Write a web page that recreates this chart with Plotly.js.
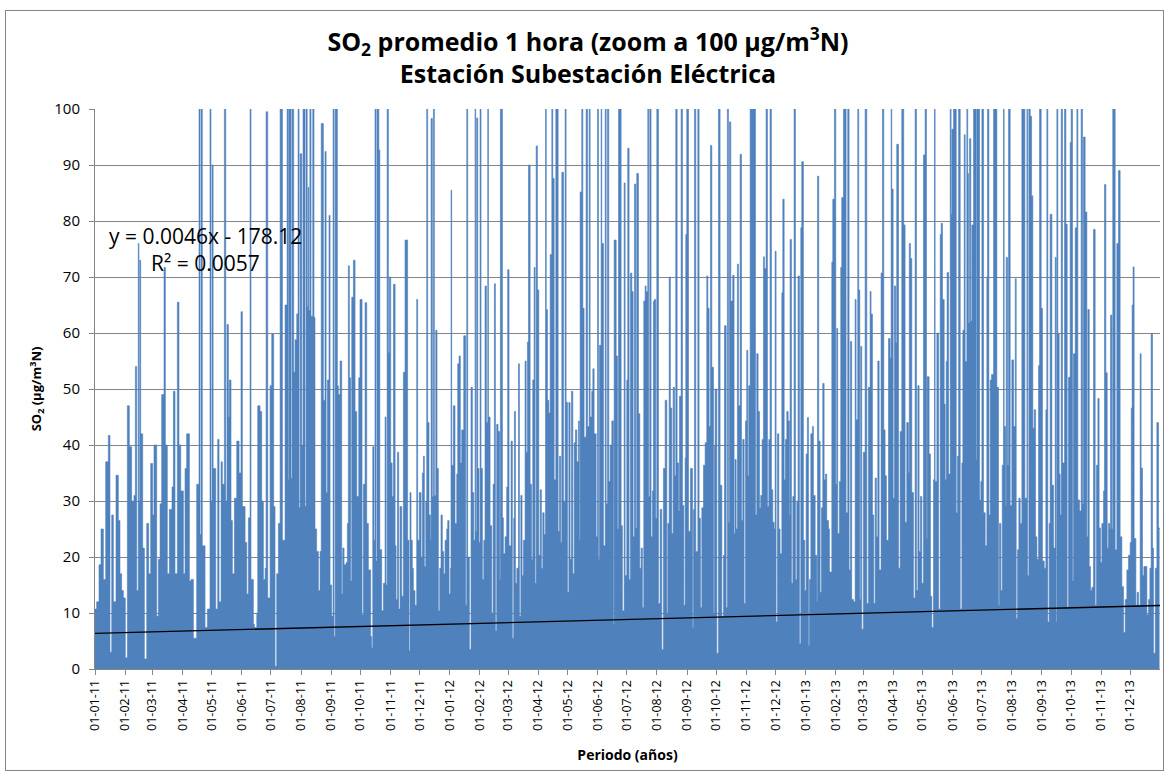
<!DOCTYPE html>
<html>
<head>
<meta charset="utf-8">
<script src="https://cdn.plot.ly/plotly-3.0.1.min.js"></script>
<style>
  html, body { margin: 0; padding: 0; background: #ffffff; }
  #grafico { width: 1169px; height: 777px; }
  #marco {
    position: absolute; left: 5px; top: 10px; width: 1159px; height: 761px;
    border: 1px solid #868686; box-sizing: border-box; pointer-events: none;
  }
</style>
</head>
<body>
<div id="grafico"></div>
<div id="marco"></div>
<script>
// Máximos de SO2 (µg/m3N) por instante; "dias" = días transcurridos desde el 01-01-2011.
const dias2011 = [0,1.7,4.1,6.2,8.6,11,13.7,15.4,17.2,18.9,21.6,24,25.7,27.4,29.2,31.2,33.3,35.3,37.7,40.1,41.5,42.9,44.5,45.2,46,47,49.1,50.8,53.2,55.2,57.3,59.3,60.7,63.5,65.2,66.9,68.6,71,72.4,74.4,76.5,79.2,80.6,82.3,84.7,86.4,88.2,90.9,92.6,94.3,97.1,98.8,101.2,104.6,107,108,109.1,110.4,113.2,115.6,118.3,119.3,120.4,121.5,124.2,126.2,127.6,129.7,131,133.1,134.5,135.8,137.2,138.2,139.9,141.3,143.4,145.8,148.2,150.2,151.6,154.4,156.1,157.8,159.5,160.5,162.9,164,166.4,167.4,169.8,171.5,173.2,175,176,177.7,180.1,181.8,183.8,185.2,186.9,188.6,190.4,192.8,195.5,197.6,198.9,199.6,201.7,202.7,204.4,205.8,207.5,208.9,209.9,211,212.7,214,216,217.1,218.3,219.2,220,221,222.2,224,225.3,226.3,228,229.8,231.5,232.7,234.9,236.6,237.7,239,240.7,241.8,243.5,244.9,245.9,247,248,249.3,250.3,252.1,253.8,254.8,256.2,258.2,259.6,260.6,261.7,263,264.1,265.8,267.5,269.2,271.3,272.6,274.7,276.1,277.8,279.5,281.2,283.6,284.6,285.7,287,288,289,290,291,292,293,294.9,296.7,298.4,299.4,300.5,301.8,302.8,304.2,305.6,307,308.7,309.7,311.1,312.4,313.8,315.5,317.2,318.9,321.6,323,324,325.1,326.4,327.5,329.2,330.9,331.9,333.6,335.4,336.7,337.8,338.8,340.2,341.2,342.2,343.6,345,345.7,347,348.1,349.1,350.5,351.8,353.2,354.6,355.9,357.3,358.7,360.1,361.8,362.8,364.2];
const so2_2011 = [10.7,12,18.6,25,16,37,41.7,3,27.5,12,34.6,26.5,17,14,12.7,2,47,39.7,30,31,54,14,76,30,73,42,21.6,1.8,26,17,36.7,27.5,40,9.4,19.6,29.5,49,71.7,40,17,28.5,32.5,49.6,17,65.5,40,31.8,17,35.8,42,15.7,16,5.5,33,120,24,120,22,7.4,10.7,120,30,90,35.8,10.7,41,12,37,33,120,30,61.5,45,51.6,26.5,17,30.5,40.7,35,63.8,29,22.6,13.4,27,120,16,8,7.4,10,47,46,30,16,18,99.5,12.7,50.6,59.8,29,0.5,17,26,120,23,65,120,33.8,120,34,120,53,58.8,63.4,120,28.8,92,40,120,29,120,64.7,86,64,120,63,120,62.8,25,21,14,21,97.4,48,92.4,31.5,51.6,81,15,9.4,120,5.8,120,120,50.6,49,55,13.4,21.6,18.6,19,26,72,52,15.7,66.4,73,46,30.8,52,66,9.7,33,65.4,26,17.7,5.8,3.8,39.7,23,120,19.3,120,120,92.7,21.3,10.4,15.3,45,15,120,56.5,70,36.8,30.8,68.7,22,12.4,38.7,10.7,29,13,53,76.6,23,3.2,31.5,23,18,14,11.4,66,23,31.5,20,35,38,18.3,30,120,44,27.5,23,98.3,30.8,120,31,60.5,35.8,10.4,18,27.5,21,17,23,25,26.5,13.4];

const dias2012 = [365.6,366.2,366.9,368.6,370.3,372.1,373.1,374.5,375.8,377.2,379.3,381.3,382.4,383.4,385.1,386.8,388.2,389.6,390.9,391.6,392.6,393.7,395,396.1,397.1,398.5,399.9,401.2,402.6,404,404.7,406.4,408.1,409.5,410.8,411.9,413.2,414.6,416.3,417,418,419.1,420.1,421.8,423.5,424.5,425.9,428,429.3,430.7,431.4,432.5,433.9,435.6,436.6,438,439.3,440.7,442.4,443.5,444.8,445.9,447.6,449,450.3,451.7,452.7,453.8,455.1,456.5,457.9,459.2,460.6,462,463.4,464.2,465.4,466.8,468.2,469.9,470.9,472.3,474,475,476.4,477.8,479.1,480.2,481.9,483.6,484.6,486,487.4,488.7,490.1,491.5,492.9,494.2,495.6,497.3,498.3,499,500.7,501.8,503.1,505.2,506.6,508.3,509.3,511,512.1,513.4,515.5,516.9,517.9,518.9,520.6,521.3,523,524.8,525.8,527.2,528.5,529.9,531.6,533.3,534,536.1,537.4,538.5,541.2,542.5,544.3,545.3,547,548,549.4,550.8,552.2,553.5,554.9,556.3,557.3,559,560.4,561.8,563.1,564.5,565.9,566.9,568.6,569.6,570.7,572,573.4,574.4,575.5,576.8,577.9,579.6,581.3,583,584.7,586.5,588.2,589.2,590.6,591.9,593.3,594.7,596.1,597.4,598.8,600.2,601.2,602.9,604.3,605.7,607,607.7,608.7,610.5,612.5,614.6,615.6,616.6,618,620.1,621.4,622.8,624.2,625.9,627.6,629.3,630.4,631.7,633.1,634.5,636.2,637.2,637.9,639.6,641.3,643,644.8,646.5,647.5,649.2,650.5,651.6,652.6,654,656,657.4,658.4,659.5,660.8,661.9,663.6,665,666.3,667.7,669.1,670.4,671.5,672.5,673.9,675.2,676.6,678,679.4,680.7,682.1,683.5,684.8,686.2,687.6,688.6,690.3,691.7,693.1,694.4,695.8,697.2,698.6,699.6,700.6,702,703.4,704.7,706.5,707.5,708.9,710.2,711.6,713,714.3,715,716.4,717.8,719.1,720.5,721.9,723.2,724.6,726,727,728.7,730.1];
const so2_2012 = [18,85.5,36.4,47,26,34.8,54.5,55.9,36.8,42.7,59.5,11.4,120,20,3.5,50.3,31.5,23,120,24.6,98.4,35.8,22.6,120,35.8,16,23,68.4,44,120,45,25.6,10,33,68.8,6.8,43.7,42.4,16,120,120,27,20.6,23.6,32.5,71.3,22,40.7,5.5,26.9,46,15.3,18,54.5,9.4,31,16.7,23,55,38.7,58.4,90,33,19.6,51.6,71.7,15.3,93.4,67.7,20.3,32,18,27.9,24,120,64.2,48,45.7,74,120,87.6,33.8,120,120,24.6,38,22.6,88.7,30,120,47.6,13.7,47.6,19.6,49.6,17,40.4,42.7,37,44.3,23,85.2,120,64.4,41.4,120,43.3,120,45,49.6,53.6,42,23.6,120,19.6,57.8,120,76,22,120,29.5,120,33.5,40,44.3,8,76.6,55.9,25,120,25.6,10.4,86.8,16.7,51.6,93,16,70.7,67.4,23.6,86.6,25.2,88.5,45.6,18,21.6,11,65.7,68.4,67.4,120,30.8,120,23.6,31.8,65.7,66,26.9,120,11.7,28.5,3.5,35.8,48,10,26,70,46.6,24.2,50.3,34.5,120,36.8,28.2,48.7,120,29.2,11.4,37.7,77.6,120,24.6,35.8,7.4,28.5,120,21,120,26.9,11,28.8,36.4,40.4,70.2,64.4,43.3,93.5,53.9,10,40,50,2.8,120,32.8,9.4,20.3,61.3,11,120,26.2,97.7,65.7,70.3,24.2,37.4,25,72.3,47,91.9,26.5,41,11.7,44.3,56.9,34.5,50.6,120,130,130,120,27.5,56.3,46,28.8,31,41,73.6,71.5,120,29,41,120,32,26.2,25,74.6,8.4,42,25,20.6,67.2,83.9,33.8,41,46,44.3,27.5,76.7,15.3,30.8,120,16,30,70.2,4.5,78.8,90.6,23,14];

const dias2013 = [731.5,732.8,733.9,734.9,736.3,738,739,740.8,742.5,743.2,744.5,745.9,747.3,748.6,750,751.4,752.7,754.5,755.5,757.9,758.9,760.6,762,763,764,765.7,767.1,768.1,769.9,771.6,772.6,774.3,775.7,777.1,778.4,780.2,781.9,782.9,784.6,785.6,786.7,787.6,788.7,790.4,792.2,793.9,795.6,797.3,798.3,799.7,801.1,802.5,803.8,805.2,806.6,808.6,810,811.4,812.7,814.1,816.2,817.9,818.9,819.6,821,822.3,823.7,824.7,826.5,828.2,829.9,830.9,831.9,833.3,835,836.7,837.6,838.8,840.2,841.9,843.6,845,846.4,847.7,849.1,850.5,852.2,853.9,855.3,856,858,859.4,860.8,862.5,863.5,864.2,866,867.7,869.4,870.4,871.8,873.5,874.5,875.6,876.5,878,879.7,880.6,881.4,883.1,884.8,885.9,887.2,888.3,890,891.7,892.7,894.1,895.1,896.8,897.7,898.5,899.6,900.9,902,903.7,905.4,906.4,907.1,908.8,909.9,911.2,912.3,914,915.7,917.4,918.1,919.5,920.8,922.2,924.3,926,927,927.7,929.4,930.4,931.8,933.2,934.5,935.2,936.6,937.3,938.7,939.7,941.4,943.1,944.9,946.6,947.6,949,950.3,951.7,953.4,955.1,956.5,958.6,959.3,960.6,962,963.4,964.7,966.1,967.5,968.9,970.6,971.6,973.3,974.6,976.4,978.1,979.1,980.1,981.5,982.5,984.3,986,987.7,988.7,989.4,990.4,991.8,992.8,993.9,995.2,997.3,998.7,1000,1001.4,1003.1,1004.1,1005.5,1006.5,1008.3,1010,1011,1012.7,1014.4,1015.8,1016.8,1018.5,1020.3,1021.3,1022.7,1024,1025.4,1027.1,1028.8,1030.2,1031.6,1032.9,1034.3,1035.7,1037.4,1038.4,1039.8,1041.2,1042.5,1043.9,1044.6,1046,1046.9,1048,1049.4,1051.1,1052.8,1054.5,1056.3,1058,1059.7,1061.4,1063.1,1064.8,1065.9,1066.8,1067.8,1068.9,1070.7,1072,1073.4,1075.1,1076.1,1077.5,1078.9,1080.3,1082,1083.7,1085.1,1086.4,1087.8,1088.8,1090.6,1092.3,1094,1095];
const so2_2013 = [38.4,44.9,4.2,16,42,43.3,31,20.3,12,88,40.7,13.7,28.8,51,33.8,34.8,26.5,25,17.3,72.7,83.9,120,33,60.8,24.2,33.5,71.7,84.2,120,120,27.9,120,17.7,58.5,12.4,12,66,44.5,120,67.7,12.4,57.6,7.1,38.7,120,11.7,50.3,67.4,63.4,27.5,11.7,34.1,23.6,55,17.7,70.7,120,42.7,34.5,23,59,55.5,120,85.7,30.5,68.4,58.2,93.7,18,42.4,120,120,79.3,26.2,44,35.1,76,73.3,31.5,12.7,120,14,50.6,21,30.8,15.3,91.8,120,23.3,52.2,38.4,13,7.4,33.8,120,33.5,60,10.7,77.6,79.6,66,47.3,33.8,54.9,70.8,34.8,120,81.2,96.4,120,120,27.9,38,120,10.7,36.8,60.5,95.4,54.9,120,88.5,61.8,94.7,62.1,79.3,120,120,37.4,120,120,30.2,33.5,120,27.9,22,70,120,27.5,51.6,52.6,120,130,120,50.3,11.4,26,14,36.4,120,43.3,29.2,73.5,36.4,120,29.2,55.2,43.3,69.7,9,21.3,30.5,26,120,120,30.5,120,16.7,120,98.7,84.5,43,46.3,23.6,19.6,54.2,120,64.4,19.3,18,46.3,120,8.4,26,81.2,32.8,21.6,73.5,8.4,120,59.8,34.8,27.5,120,36.8,120,79.4,11,52.1,94,120,15.7,56.3,78.8,120,30.2,28.2,120,29.5,95,81.6,23.6,64.2,18.3,14,14.6,78.5,11.4,36.4,48.3,25.2,19,26,31.8,86.5,52.9,21.6,26,25,63.2,25,120,120,21.3,76,89,23.6,14.7,6.5,12.4,17.7,20.3,22.6,46.6,65,71.8,23.3,11.4,13.7,11.4,56.3,35.9,16.7,18.3,18.3,9.7,12.4,18,59.9,21.6,2.8,18,44,25.2,25];

// Tendencia lineal (eje x en número de serie de fecha de Excel)
const trendSlope = 0.00455;
const trendIntercept = -178.12;
const trendLabel = 'y = 0.0046x - 178.12';
const r2Label = 'R² = 0.0057';
const excelSerialStart = 40544;          // 01-01-2011
const periodoDias = [0, 1095.5];         // extremos del periodo graficado

const ORIGEN = Date.UTC(2011, 0, 1);
function diaAFecha(d) {
  return new Date(ORIGEN + d * 86400000).toISOString().slice(0, 19).replace('T', ' ');
}

const dias = dias2011.concat(dias2012, dias2013);
const so2 = so2_2011.concat(so2_2012, so2_2013);

const serie = {
  type: 'scatter', mode: 'lines',
  x: dias.map(diaAFecha), y: so2,
  line: { color: '#4f81bd', width: 0.6, shape: 'hv' },
  fill: 'tozeroy', fillcolor: '#4f81bd',
  hoverinfo: 'skip', showlegend: false
};

const tendencia = {
  type: 'scatter', mode: 'lines',
  x: periodoDias.map(diaAFecha),
  y: periodoDias.map(d => trendSlope * (excelSerialStart + d) + trendIntercept),
  line: { color: '#000000', width: 1.3 },
  hoverinfo: 'skip', showlegend: false
};

const fuente = 'Open Sans, sans-serif';
const gris = '#868686';

const layout = {
  width: 1169, height: 777,
  margin: { l: 95, r: 9, t: 109, b: 108 },
  paper_bgcolor: '#ffffff', plot_bgcolor: '#ffffff',
  font: { family: fuente, color: '#000000' },
  title: {
    text: 'SO<sub>2</sub> promedio 1 hora (zoom a 100 µg/m<sup>3</sup>N)<br>Estación Subestación Eléctrica',
    font: { family: fuente, size: 25, color: '#000000', weight: 'bold' },
    x: 0.503, xanchor: 'center', y: 0.935, yanchor: 'middle'
  },
  xaxis: {
    type: 'date',
    range: [diaAFecha(periodoDias[0]), diaAFecha(periodoDias[1])],
    tick0: '2011-01-01', dtick: 'M1', tickformat: '%d-%m-%y', tickangle: -90,
    ticks: 'outside', ticklen: 5, tickcolor: gris,
    tickfont: { family: fuente, size: 12.5, color: '#000000' },
    showgrid: false, showline: true, linecolor: gris, linewidth: 1,
    title: { text: 'Periodo (años)', font: { family: fuente, size: 14, weight: 'bold' }, standoff: 20 },
    fixedrange: true
  },
  yaxis: {
    range: [0, 100], dtick: 10,
    ticks: 'outside', ticklen: 5, tickcolor: gris, ticklabelstandoff: 6,
    tickfont: { family: fuente, size: 15, color: '#000000' },
    showgrid: true, gridcolor: gris, gridwidth: 1,
    showline: true, linecolor: gris, linewidth: 1, zeroline: false,
    title: { text: 'SO<sub>2</sub> (µg/m<sup>3</sup>N)', font: { family: fuente, size: 13, weight: 'bold' }, standoff: 9 },
    fixedrange: true
  },
  annotations: [
    { xref: 'paper', yref: 'paper', x: 0.1033, y: 0.7732, xanchor: 'center', yanchor: 'middle',
      text: trendLabel, showarrow: false, font: { family: fuente, size: 21, color: '#000000' } },
    { xref: 'paper', yref: 'paper', x: 0.1033, y: 0.7250, xanchor: 'center', yanchor: 'middle',
      text: r2Label, showarrow: false, font: { family: fuente, size: 21, color: '#000000' } }
  ]
};

Plotly.newPlot('grafico', [serie, tendencia], layout, { displayModeBar: false, staticPlot: true });
</script>
</body>
</html>
